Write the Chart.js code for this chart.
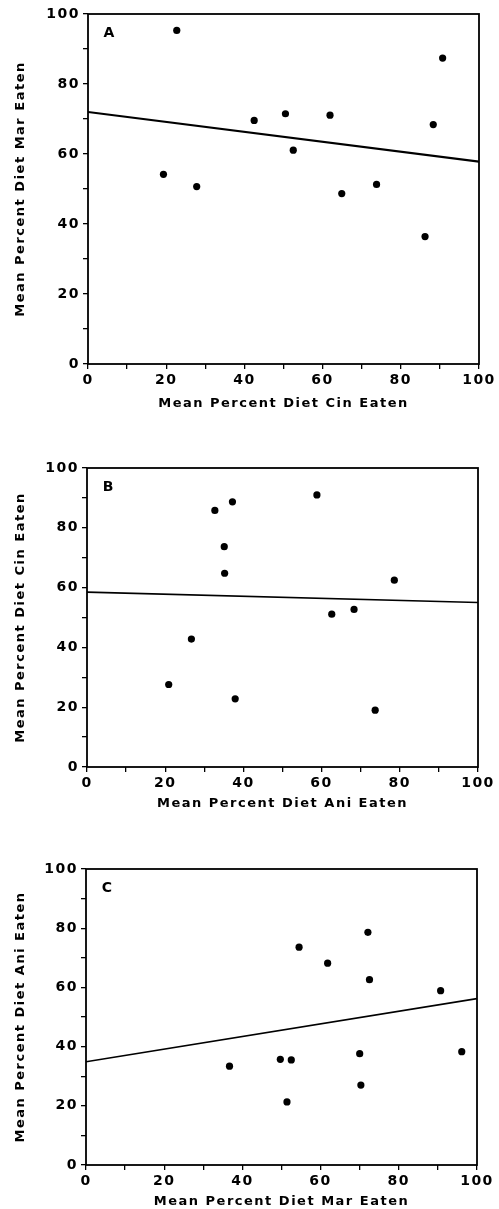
<!DOCTYPE html>
<html><head><meta charset="utf-8">
<script src="https://cdn.jsdelivr.net/npm/chart.js@4.4.1/dist/chart.umd.min.js"></script>
<style>
html,body{margin:0;padding:0;background:#fff;width:499px;height:1209px;overflow:hidden;position:relative}
canvas{position:absolute;left:0;display:block}
</style></head><body>
<canvas id="ca" width="499" height="412" style="top:0px"></canvas>
<canvas id="cb" width="499" height="395" style="top:420px"></canvas>
<canvas id="cc" width="499" height="387" style="top:822px"></canvas>
<script>
// ---- Panel A: Cin (x) vs Mar (y)
const panelA_x = [22.7, 90.7, 42.5, 50.5, 61.9, 88.3, 52.5, 19.3, 27.8, 64.9, 73.8, 86.2];
const panelA_y = [95.3, 87.4, 69.6, 71.5, 71.1, 68.4, 61.1, 54.2, 50.7, 48.7, 51.3, 36.4];
const lineA_x = [0, 100];
const lineA_y = [72.0, 57.8];
// ---- Panel B: Ani (x) vs Cin (y)
const panelB_x = [32.7, 37.2, 58.8, 35.1, 35.2, 78.6, 62.6, 68.3, 26.7, 20.9, 37.9, 73.7];
const panelB_y = [85.8, 88.7, 91.0, 73.7, 64.8, 62.5, 51.1, 52.7, 42.8, 27.6, 22.8, 19.0];
const lineB_x = [0, 100];
const lineB_y = [58.5, 55.0];
// ---- Panel C: Mar (x) vs Ani (y)
const panelC_x = [54.5, 61.8, 72.1, 72.5, 90.7, 36.7, 49.7, 52.5, 51.4, 70.0, 70.3, 96.1];
const panelC_y = [73.6, 68.2, 78.6, 62.6, 58.9, 33.4, 35.7, 35.5, 21.3, 37.6, 27.0, 38.3];
const lineC_x = [0, 100];
const lineC_y = [34.9, 56.2];
// ---- labels
const panelLetters = ['A', 'B', 'C'];
const xTitles = ['Mean Percent Diet Cin Eaten', 'Mean Percent Diet Ani Eaten', 'Mean Percent Diet Mar Eaten'];
const yTitles = ['Mean Percent Diet Mar Eaten', 'Mean Percent Diet Cin Eaten', 'Mean Percent Diet Ani Eaten'];
const axisMin = 0, axisMax = 100, minorStep = 10, labelStep = 20;

const FONT = 'DejaVu Sans';
const SPACING = '1.5px';

const spacingPlugin = {
  id: 'spacing',
  beforeLayout(c) { c.ctx.letterSpacing = SPACING; },
  beforeDraw(c) { c.ctx.letterSpacing = SPACING; }
};
const framePlugin = {
  id: 'frame',
  afterDraw(c, args, opts) {
    const a = c.chartArea, ctx = c.ctx;
    ctx.save();
    ctx.strokeStyle = '#000';
    ctx.lineWidth = 1.8;
    ctx.strokeRect(a.left, a.top, a.right - a.left, a.bottom - a.top);
    ctx.fillStyle = '#000';
    ctx.font = 'bold 14px "' + FONT + '"';
    ctx.textAlign = 'center';
    ctx.textBaseline = 'middle';
    ctx.letterSpacing = '0px';
    ctx.fillText(opts.text, a.left + 21, a.top + 19);
    ctx.restore();
  }
};

function zip(xs, ys) { return xs.map((x, i) => ({ x: x, y: ys[i] })); }

function makeChart(id, px, py, lx, ly, letter, xt, yt, geo) {
  const tickFont = { family: FONT, size: 14, weight: 'bold' };
  const titleFont = { family: FONT, size: 13, weight: 'bold' };
  const grid = { display: true, drawOnChartArea: false, drawTicks: true, tickLength: 5, color: '#000', lineWidth: 1.3 };
  return new Chart(document.getElementById(id), {
    data: {
      datasets: [
        { type: 'scatter', data: zip(px, py), backgroundColor: '#000', borderWidth: 0, pointRadius: 3.6, pointHoverRadius: 3.6 },
        { type: 'line', data: zip(lx, ly), borderColor: '#000', borderWidth: geo.lw, pointRadius: 0, fill: false, tension: 0 }
      ]
    },
    options: {
      responsive: false,
      animation: false,
      events: [],
      layout: { padding: { top: geo.top, bottom: geo.bottom, right: geo.right, left: 0 } },
      plugins: { legend: { display: false }, tooltip: { enabled: false }, frame: { text: letter } },
      scales: {
        x: {
          type: 'linear', position: 'bottom', min: axisMin, max: axisMax,
          border: { display: false },
          grid: grid,
          ticks: { stepSize: minorStep, autoSkip: false, maxRotation: 0, color: '#000', font: tickFont, padding: 3,
                   callback: v => (v % labelStep === 0 ? String(v) : '') },
          title: { display: true, text: xt, color: '#000', font: titleFont, padding: { top: 0, bottom: 0 } },
          afterFit: s => { s.height = geo.xh; }
        },
        y: {
          type: 'linear', position: 'left', min: axisMin, max: axisMax,
          border: { display: false },
          grid: grid,
          ticks: { stepSize: minorStep, autoSkip: false, color: '#000', font: tickFont, padding: 3,
                   callback: v => (v % labelStep === 0 ? String(v) : '') },
          title: { display: true, text: yt, color: '#000', font: titleFont, padding: { top: 13, bottom: 0 } },
          afterFit: s => { s.width = geo.yw; }
        }
      }
    },
    plugins: [spacingPlugin, framePlugin]
  });
}

makeChart('ca', panelA_x, panelA_y, lineA_x, lineA_y, panelLetters[0], xTitles[0], yTitles[0],
  { top: 14, bottom: 1, right: 20, xh: 47, yw: 88, lw: 2.2 });
makeChart('cb', panelB_x, panelB_y, lineB_x, lineB_y, panelLetters[1], xTitles[1], yTitles[1],
  { top: 48, bottom: 4, right: 21, xh: 44, yw: 87, lw: 1.6 });
makeChart('cc', panelC_x, panelC_y, lineC_x, lineC_y, panelLetters[2], xTitles[2], yTitles[2],
  { top: 47, bottom: 0, right: 22, xh: 44, yw: 86, lw: 1.6 });
</script>
</body></html>
